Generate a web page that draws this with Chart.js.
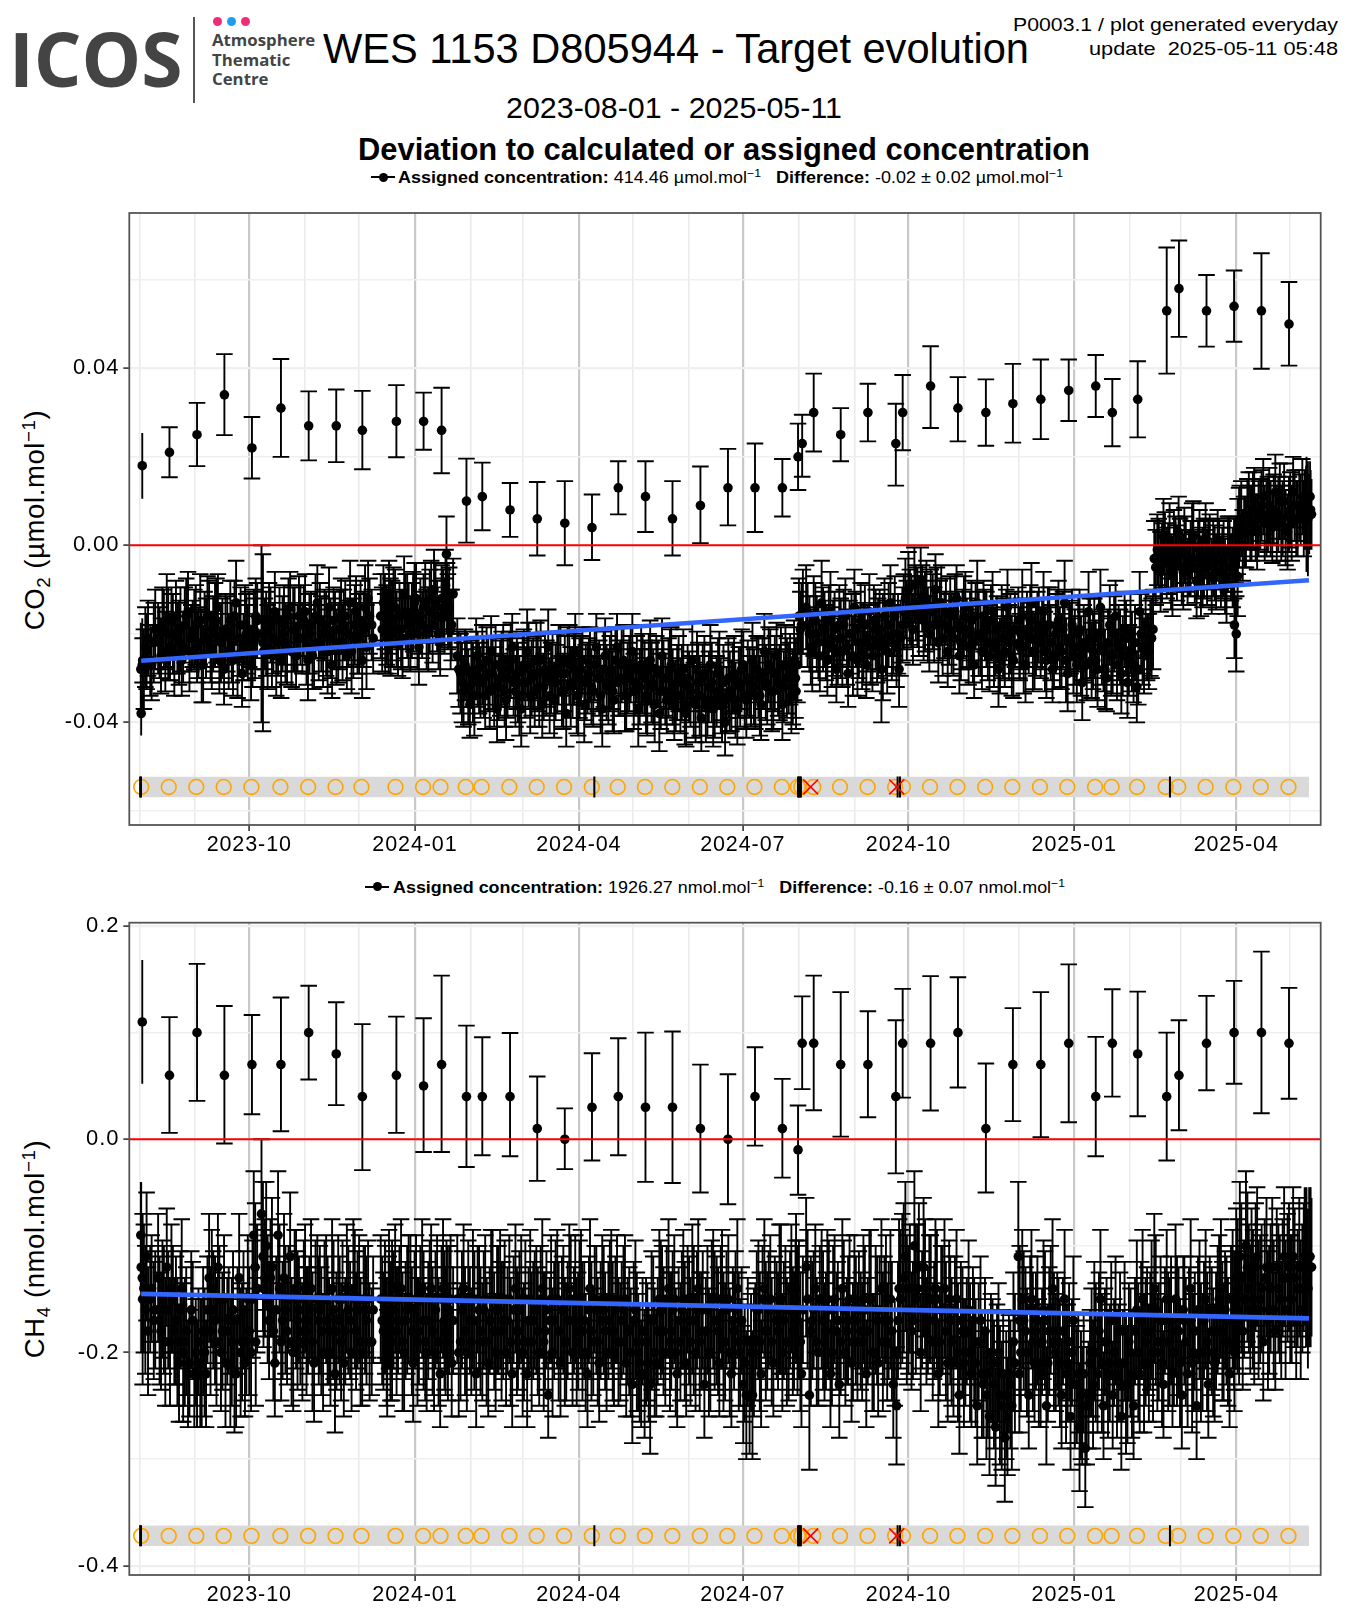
<!DOCTYPE html>
<html><head><meta charset="utf-8">
<script src="https://cdn.jsdelivr.net/npm/chart.js@4/dist/chart.umd.min.js"></script>
<style>
html,body{margin:0;padding:0;background:#fff}
#page{position:relative;width:1350px;height:1620px;overflow:hidden;font-family:"Liberation Sans",sans-serif;color:#000}
canvas{position:absolute;left:0}
.t{position:absolute;white-space:nowrap;line-height:1;transform-origin:center center}
sup{font-size:68%;vertical-align:baseline;position:relative;top:-.5em}
sub{font-size:68%;vertical-align:baseline;position:relative;top:.3em}
.logo{font-family:"Open Sans",sans-serif;font-weight:700;color:#444}
</style></head><body><div id="page">
<div class="t logo" id="lgI" style="left:9px;top:21px;font-size:75px">ICOS</div>
<div style="position:absolute;left:192.5px;top:17px;width:2px;height:86px;background:#555"></div>
<div style="position:absolute;left:213px;top:17px;width:9px;height:9px;border-radius:50%;background:#ee2d78"></div>
<div style="position:absolute;left:227px;top:17px;width:9px;height:9px;border-radius:50%;background:#1e9cf0"></div>
<div style="position:absolute;left:241px;top:17px;width:9px;height:9px;border-radius:50%;background:#ee2d78"></div>
<div class="t logo" style="left:212px;top:32px;font-size:16.8px">Atmosphere</div>
<div class="t logo" style="left:212px;top:52px;font-size:16.8px">Thematic</div>
<div class="t logo" style="left:212px;top:71px;font-size:16.8px">Centre</div>
<div class="t fit" data-cx="676" data-cy="49" data-w="706" style="font-size:42px">WES 1153 D805944 - Target evolution</div>
<div class="t fit" data-r="1338" data-cy="25.7" data-w="325" style="font-size:18.5px">P0003.1 / plot generated everyday</div>
<div class="t fit" data-r="1338" data-cy="49" data-w="249" style="font-size:18.5px;white-space:pre">update  2025-05-11 05:48</div>
<div class="t fit" data-cx="673.5" data-cy="108" data-w="336" style="font-size:30px">2023-08-01 - 2025-05-11</div>
<div class="t fit" data-cx="723.7" data-cy="149" data-w="732" style="font-size:31px;font-weight:700">Deviation to calculated or assigned concentration</div>
<div style="position:absolute;left:371px;top:176px;width:24px;height:2px;background:#000"></div>
<div style="position:absolute;left:378.5px;top:172.5px;width:9px;height:9px;border-radius:50%;background:#000"></div>
<div class="t fit" data-l="398" data-cy="177" data-w="665" style="font-size:17px;white-space:pre"><b>Assigned concentration:</b> 414.46 µmol.mol<sup>−1</sup>   <b>Difference:</b> -0.02 ± 0.02 µmol.mol<sup>−1</sup></div>
<div style="position:absolute;left:365px;top:885.5px;width:24px;height:2px;background:#000"></div>
<div style="position:absolute;left:372.5px;top:882px;width:9px;height:9px;border-radius:50%;background:#000"></div>
<div class="t fit" data-l="393" data-cy="887" data-w="672" style="font-size:17px;white-space:pre"><b>Assigned concentration:</b> 1926.27 nmol.mol<sup>−1</sup>   <b>Difference:</b> -0.16 ± 0.07 nmol.mol<sup>−1</sup></div>
<div class="t" style="left:35px;top:520px;font-size:27.5px;letter-spacing:.6px;transform:translate(-50%,-50%) rotate(-90deg)">CO<sub>2</sub> (µmol.mol<sup>−1</sup>)</div>
<div class="t" style="left:35px;top:1249px;font-size:27.5px;letter-spacing:.6px;transform:translate(-50%,-50%) rotate(-90deg)">CH<sub>4</sub> (nmol.mol<sup>−1</sup>)</div>
<canvas id="c1" style="top:190px" width="1350" height="670"></canvas>
<canvas id="c2" style="top:905px" width="1350" height="715"></canvas>
</div>
<script>
// x positions are days since 2023-08-01
const xTickDays=[0,31,61,92,122,153,184,213,244,274,305,335,366,397,427,458,488,519,550,578,609,639];
const xTickLabels={61:"2023-10",153:"2024-01",244:"2024-04",335:"2024-07",427:"2024-10",519:"2025-01",609:"2025-04"};

// sparse calibration series (same days in both panels)
const topDays=[1.6,16.7,32,47.2,62.5,78.6,94,109.3,123.8,142.7,157.8,167.8,181.6,190.4,205.8,220.9,236.2,251.3,265.9,281,296,311.5,326.8,341.8,357,365.7,368,374.4,389.4,404.5,420,423.8,439.3,454.5,470,485,500.5,516,531,540.2,554.3,570.4,577.2,592.5,607.8,623,638.3];
const co2Top=[.018,.021,.025,.034,.022,.031,.027,.027,.026,.028,.028,.026,.01,.011,.008,.006,.005,.004,.013,.011,.006,.009,.013,.013,.013,.02,.023,.03,.025,.03,.023,.03,.036,.031,.03,.032,.033,.035,.036,.03,.033,.053,.058,.053,.054,.053,.05];
const co2TopHi=[.0254,.0267,.0322,.0432,.029,.0421,.0348,.0352,.0349,.0362,.0345,.0356,.0196,.0187,.0141,.0143,.0145,.0115,.019,.019,.0145,.0178,.0218,.023,.0195,.0275,.0295,.0388,.031,.0365,.032,.0385,.045,.038,.0375,.041,.042,.042,.043,.0376,.0416,.0673,.0689,.0611,.0621,.066,.0595];
const co2TopLo=[.0105,.0154,.0179,.0249,.0151,.02,.0192,.0188,.0172,.0199,.0216,.0163,.0006,.0034,.0019,-.0023,-.0045,-.0033,.007,.003,-.0023,.0005,.0045,.003,.0065,.0125,.0155,.0212,.019,.0235,.0135,.0215,.0265,.0235,.0225,.0232,.024,.0281,.029,.0224,.0244,.0388,.0471,.0449,.046,.0399,.0406];
const ch4Top=[.11,.06,.1,.06,.07,.07,.1,.08,.04,.06,.05,.07,.04,.04,.04,.01,0,.03,.04,.03,.03,.01,0,.04,.01,-.01,.09,.09,.07,.07,.04,.09,.09,.1,.01,.07,.07,.09,.04,.09,.08,.04,.06,.09,.1,.1,.09];
const ch4TopHi=[.168,.1145,.1645,.125,.1166,.133,.144,.1285,.108,.115,.1135,.1535,.1066,.0957,.0997,.0588,.029,.0807,.0947,.1,.101,.07,.061,.0863,.0566,.0316,.134,.1535,.138,.12,.1116,.141,.153,.152,.071,.123,.138,.164,.096,.1407,.1385,.1,.1116,.1345,.1485,.176,.142];
const ch4TopLo=[.052,.006,.036,-.004,.0235,.0075,.056,.032,-.029,.006,-.012,-.012,-.026,-.015,-.016,-.039,-.028,-.02,-.015,-.04,-.041,-.05,-.061,-.006,-.036,-.052,.047,.0272,.0025,.0206,-.032,.039,.027,.0485,-.05,.017,.002,.016,-.016,.04,.0216,-.02,.0084,.046,.052,.0244,.038];

// dense target series
const denseDays=[.8,1,2.5,4,6,8,
10.4,12,13.6,15.2,17,18.6,
20.3,22,23.5,25.2,27,28.8,
30.5,32,33.8,35.4,37,38.7,
40.2,42,43.6,45.3,47,48.8,
50.5,52,53.7,55.4,57,58.6,
60.2,62,63.5,64.6,67.8,68.9,
70.4,72,73.6,75.2,77,78.7,
80.3,82,83.7,85.4,87,88.6,
90.5,92,93.6,95.3,97,98.8,
100.2,102,103.7,105.3,107,108.6,
110.4,112,113.5,115.2,117,118.8,
120.3,122,123.7,125.3,127,129,
134,135.5,136.5,137.6,138.6,139.5,
140.3,142,143.6,145.3,147,148.7,
150.5,152,153.6,155.2,157,158.7,
160.4,162,163.6,165.3,167,168.6,
170,170.5,172,173.4,176.5,178.3,
180,181.8,183.5,185.2,187,188.6,
190.4,192,193.7,195.3,197,198.6,
200.3,202,203.6,205.4,207,208.8,
210.2,212,213.5,215.3,217,218.7,
220.4,222,223.7,225.2,227,228.6,
230.3,232,233.8,235.4,237,238.7,
240.5,242,243.6,245.2,247,248.8,
250.2,252,253.7,255.3,257,258.6,
260.4,262,263.5,265.2,267,268.8,
270.3,272,273.7,275.4,277,278.6,
280.5,282,283.6,285.3,287,288.7,
290.2,292,293.8,295.3,297,298.6,
300.4,302,303.6,305.2,307,308.8,
310.3,312,313.7,315.4,317,318.6,
320.5,322,323.5,325.2,327,328.7,
330.2,332,333.6,335.3,337,338.8,
340.4,342,343.7,345.2,347,348.6,
350.3,352,353.8,355.4,357,358.7,
360.5,362,363.5,364.6,366.2,367.6,
370.2,372,373.6,375.3,377,378.8,
380.4,382,383.7,385.2,387,388.6,
390.3,392,393.5,395.4,397,398.7,
400.5,402,403.6,405.3,407,408.8,
410.2,412,413.7,415.2,417,418.6,
420.4,421.8,423.6,425.3,427,428.7,
430.3,432,433.8,435.4,437,438.6,
440.5,442,443.6,445.2,447,448.8,
450.2,452,453.7,455.3,457,458.6,
460.4,462,463.5,465.2,467,468.7,
470.3,472,473.7,475.4,477,478.8,
480.5,482,483.6,485.3,488,488.6,
490.2,492,493.8,495.3,497,498.6,
500.4,502,503.6,505.2,507,508.8,
510.3,512,513.7,515.4,517,518.6,
520.5,522,523.5,525.2,527,528.7,
530.2,532,533.6,535.3,537,538.8,
540.4,542,543.7,545.2,547,548.6,
550.3,552,553.8,555.4,557,558.7,
560.5,562,563.5,565.2,567,568.6,
570.4,572,573.6,575.3,577,578.8,
580.2,582,583.7,585.2,587,588.6,
590.3,592,593.5,595.4,597,598.7,
600.5,602,603.6,605.3,607,608,
609,609.8,611,612.6,614.4,616,
617.5,619,620.6,622.3,624,625.8,
627.3,629,630.7,632.4,634,635.6,
637.5,639,640.6,642.3,644,645.7,
647,648,649.5,650];
const co2Dense=[-.028,-.038,-.028,-.024,-.026,-.022,
-.021,-.025,-.019,-.017,-.023,-.02,
-.016,-.022,-.026,-.018,-.015,-.021,
-.019,-.023,-.017,-.027,-.021,-.016,
-.024,-.018,-.014,-.022,-.028,-.02,
-.017,-.026,-.013,-.021,-.029,-.018,
-.022,-.027,-.019,-.016,-.02,-.024,
-.02,-.017,-.024,-.015,-.022,-.026,
-.018,-.023,-.014,-.019,-.025,-.016,
-.021,-.015,-.026,-.018,-.023,-.013,
-.017,-.024,-.02,-.014,-.027,-.019,
-.022,-.016,-.018,-.025,-.013,-.021,
-.015,-.02,-.026,-.014,-.012,-.018,
-.016,-.013,-.02,-.018,-.012,-.022,
-.017,-.014,-.022,-.019,-.011,-.016,
-.02,-.015,-.012,-.023,-.018,-.013,
-.019,-.012,-.01,-.016,-.022,-.014,
-.009,-.002,-.014,-.018,-.025,-.029,
-.033,-.028,-.036,-.031,-.025,-.03,
-.027,-.034,-.029,-.024,-.032,-.037,
-.03,-.026,-.035,-.028,-.023,-.033,
-.031,-.037,-.027,-.024,-.034,-.029,
-.026,-.032,-.036,-.028,-.023,-.03,
-.035,-.029,-.026,-.033,-.038,-.027,
-.031,-.024,-.034,-.028,-.036,-.03,
-.027,-.033,-.023,-.03,-.037,-.025,
-.032,-.028,-.035,-.023,-.03,-.026,
-.034,-.029,-.024,-.031,-.037,-.027,
-.03,-.035,-.026,-.032,-.028,-.038,
-.025,-.033,-.03,-.027,-.036,-.031,
-.034,-.028,-.038,-.032,-.026,-.036,
-.031,-.039,-.029,-.035,-.027,-.037,
-.033,-.028,-.036,-.04,-.03,-.034,
-.029,-.037,-.032,-.027,-.035,-.031,
-.026,-.034,-.03,-.036,-.024,-.032,
-.028,-.033,-.025,-.031,-.036,-.027,
-.03,-.034,-.026,-.033,-.016,-.018,
-.014,-.02,-.024,-.017,-.022,-.013,
-.019,-.026,-.015,-.021,-.028,-.018,
-.024,-.016,-.029,-.02,-.014,-.026,
-.017,-.022,-.027,-.015,-.025,-.019,
-.021,-.028,-.016,-.024,-.013,-.02,
-.023,-.028,-.018,-.012,-.01,-.015,
-.009,-.014,-.008,-.017,-.012,-.02,
-.015,-.01,-.022,-.013,-.018,-.024,
-.016,-.021,-.012,-.025,-.019,-.014,
-.023,-.017,-.027,-.013,-.021,-.016,
-.019,-.025,-.015,-.022,-.028,-.018,
-.024,-.014,-.02,-.026,-.017,-.022,
-.016,-.027,-.021,-.013,-.024,-.019,
-.022,-.015,-.026,-.018,-.028,-.02,
-.017,-.024,-.013,-.029,-.021,-.025,
-.027,-.019,-.031,-.023,-.015,-.026,
-.021,-.028,-.014,-.024,-.03,-.018,
-.025,-.016,-.022,-.029,-.019,-.031,
-.02,-.027,-.032,-.015,-.023,-.018,
-.024,-.021,-.003,-.001,-.006,.002,
-.004,.001,-.007,-.002,.003,-.005,
0,-.006,-.003,.002,-.008,-.001,
-.005,.001,-.002,-.007,-.004,0,
-.006,-.003,-.009,-.001,-.005,-.018,
-.02,-.007,.005,0,.003,.008,
.005,.01,.003,.007,.011,.006,
.009,.004,.012,.007,.005,.01,
.003,.008,.012,.006,.009,.011,
.008,.007,.007,.011];
const co2Dense2=[-.027,-.026,-.023,-.021,-.027,-.019,
-.022,-.018,-.024,-.02,-.017,-.025,
-.021,-.019,-.023,-.016,-.024,-.02,
-.018,-.022,-.025,-.019,-.016,-.023,
-.02,-.017,-.026,-.021,-.019,-.024,
-.022,-.016,-.025,-.018,-.023,-.02,
-.019,-.024,-.021,-.017,-.022,-.02,
-.023,-.018,-.021,-.025,-.017,-.02,
-.022,-.016,-.024,-.019,-.021,-.018,
-.017,-.023,-.02,-.025,-.016,-.022,
-.02,-.018,-.024,-.021,-.017,-.023,
-.019,-.022,-.016,-.02,-.024,-.018,
-.021,-.017,-.019,-.023,-.016,-.021,
-.019,-.015,-.018,-.021,-.016,-.02,
-.014,-.019,-.016,-.021,-.015,-.018,
-.017,-.013,-.02,-.016,-.014,-.019,
-.015,-.018,-.013,-.02,-.012,-.016,
-.012,-.015,-.019,-.011,-.028,-.031,
-.027,-.032,-.029,-.034,-.028,-.031,
-.03,-.026,-.033,-.029,-.027,-.032,
-.028,-.033,-.03,-.026,-.031,-.029,
-.034,-.028,-.031,-.027,-.03,-.033,
-.029,-.026,-.032,-.03,-.034,-.028,
-.031,-.027,-.033,-.029,-.026,-.032,
-.028,-.034,-.03,-.026,-.031,-.029,
-.032,-.027,-.03,-.034,-.028,-.031,
-.029,-.033,-.026,-.031,-.027,-.034,
-.03,-.027,-.033,-.028,-.032,-.029,
-.034,-.028,-.031,-.036,-.029,-.033,
-.03,-.035,-.028,-.032,-.034,-.029,
-.031,-.036,-.03,-.033,-.035,-.028,
-.034,-.03,-.036,-.032,-.031,-.035,
-.029,-.034,-.031,-.035,-.033,-.03,
-.035,-.031,-.028,-.034,-.03,-.033,
-.032,-.028,-.034,-.029,-.031,-.027,
-.033,-.029,-.031,-.027,-.032,-.03,
-.028,-.032,-.03,-.027,-.019,-.015,
-.018,-.023,-.016,-.02,-.025,-.019,
-.022,-.017,-.023,-.019,-.024,-.021,
-.018,-.023,-.02,-.025,-.019,-.022,
-.024,-.018,-.021,-.023,-.017,-.022,
-.019,-.023,-.021,-.018,-.022,-.016,
-.02,-.021,-.015,-.017,-.014,-.019,
-.013,-.016,-.012,-.015,-.018,-.014,
-.018,-.013,-.017,-.021,-.015,-.019,
-.02,-.015,-.018,-.022,-.016,-.02,
-.019,-.022,-.016,-.02,-.024,-.018,
-.022,-.017,-.023,-.019,-.025,-.021,
-.018,-.022,-.025,-.019,-.023,-.02,
-.023,-.019,-.017,-.024,-.021,-.018,
-.02,-.024,-.018,-.022,-.025,-.019,
-.023,-.019,-.026,-.021,-.018,-.023,
-.02,-.025,-.022,-.027,-.021,-.024,
-.026,-.02,-.023,-.028,-.022,-.025,
-.02,-.027,-.023,-.025,-.021,-.026,
-.024,-.022,-.028,-.02,-.025,-.023,
-.021,-.019,-.005,-.002,-.004,-.001,
-.003,-.006,-.001,-.004,-.002,-.006,
-.002,-.004,.001,-.005,-.003,-.007,
-.003,-.005,-.001,-.003,-.006,-.002,
-.004,-.007,-.002,-.005,-.003,-.001,
.002,.004,.006,.003,.007,.005,
.008,.004,.006,.009,.005,.007,
.006,.008,.005,.01,.006,.004,
.007,.005,.009,.006,.008,.006,
.009,.006,.008,.007];
const co2DenseErr=[.0105,.005,.009,.0085,.008,.009,
.008,.0085,.009,.0105,.0075,.009,
.008,.0095,.008,.0085,.009,.0075,
.009,.008,.0105,.0085,.009,.008,
.0085,.0095,.0075,.009,.008,.0085,
.009,.008,.0095,.0085,.0075,.009,
.0085,.008,.009,.0085,.02,.008,
.0095,.0085,.008,.009,.0075,.0085,
.009,.0085,.008,.0095,.0075,.009,
.008,.0085,.009,.0075,.0095,.0085,
.0085,.008,.0095,.009,.0075,.0085,
.009,.0085,.008,.0075,.0095,.009,
.008,.009,.0085,.0095,.0085,.008,
.0095,.0085,.009,.008,.0085,.0075,
.009,.0085,.0075,.009,.0085,.0095,
.0085,.009,.008,.0085,.0075,.009,
.0095,.0085,.009,.008,.0075,.0085,
.008,.0085,.009,.008,.0085,.009,
.008,.0085,.0075,.009,.0085,.008,
.009,.0075,.0085,.008,.009,.0075,
.0085,.008,.009,.0085,.0075,.008,
.009,.0085,.008,.0095,.0085,.008,
.0085,.009,.0075,.0085,.0085,.008,
.0085,.009,.008,.0085,.0075,.009,
.008,.0085,.009,.0075,.0085,.008,
.0085,.008,.0075,.0085,.0085,.0085,
.0085,.009,.0075,.0075,.0085,.008,
.008,.0085,.0085,.0075,.0085,.009,
.0085,.008,.009,.0085,.0075,.0085,
.0085,.0075,.009,.0085,.008,.0085,
.0085,.009,.0075,.008,.0085,.0085,
.009,.0075,.0085,.008,.009,.0085,
.008,.0085,.0085,.0075,.009,.008,
.0085,.008,.009,.0075,.0085,.008,
.0085,.0075,.009,.008,.0085,.0085,
.009,.0085,.0075,.0085,.008,.009,
.008,.0085,.009,.0085,.0085,.0095,
.0095,.0085,.009,.0085,.008,.0095,
.0085,.008,.009,.0085,.0075,.009,
.008,.0085,.0075,.009,.0085,.008,
.0085,.009,.0075,.0085,.008,.009,
.009,.012,.0085,.0095,.0085,.009,
.009,.0085,.0085,.009,.0085,.008,
.0085,.009,.0075,.009,.0085,.0085,
.0085,.008,.009,.0085,.0075,.008,
.009,.0085,.0075,.0085,.009,.008,
.0085,.009,.0075,.0095,.0085,.008,
.0085,.008,.009,.0075,.0085,.009,
.008,.0085,.009,.0085,.0075,.008,
.0105,.0085,.008,.009,.0085,.0085,
.008,.009,.0085,.0085,.0075,.009,
.009,.0085,.0095,.0085,.008,.0085,
.0085,.009,.0085,.008,.009,.0085,
.009,.0085,.0085,.009,.0075,.009,
.0085,.008,.0085,.009,.0085,.008,
.009,.0085,.008,.009,.0085,.0075,
.0085,.009,.0085,.008,.009,.0085,
.008,.0085,.009,.0085,.008,.0085,
.0085,.0075,.0085,.008,.0085,.009,
.009,.0085,.008,.0085,.0085,.008,
.008,.0085,.0085,.0075,.009,.0075,
.0085,.009,.0085,.008,.008,.0085,
.0085,.0075,.0085,.008,.0085,.0085,
.0085,.008,.0085,.0085,.0085,.0085,
.0085,.0085,.008,.0085,.008,.0085,
.009,.013,.009,.008];
const ch4Dense=[-.09,-.12,-.14,-.11,-.15,-.17,
-.13,-.18,-.16,-.12,-.19,-.15,
-.17,-.21,-.14,-.19,-.22,-.16,
-.22,-.22,-.21,-.18,-.22,-.13,
-.14,-.17,-.12,-.2,-.15,-.18,
-.21,-.16,-.22,-.13,-.19,-.21,
-.15,-.2,-.09,-.19,-.07,-.14,
-.1,-.17,-.12,-.21,-.09,-.19,
-.13,-.18,-.11,-.2,-.15,-.16,
-.19,-.14,-.17,-.14,-.21,-.15,
-.16,-.2,-.15,-.18,-.14,-.22,
-.15,-.19,-.21,-.14,-.17,-.14,
-.18,-.15,-.2,-.16,-.15,-.19,
-.15,-.18,-.16,-.21,-.15,-.17,
-.19,-.14,-.17,-.14,-.2,-.16,
-.15,-.21,-.15,-.18,-.14,-.19,
-.17,-.14,-.2,-.15,-.22,-.14,
-.18,-.15,-.16,-.21,-.15,-.19,
-.14,-.2,-.17,-.15,-.22,-.16,
-.19,-.15,-.21,-.15,-.18,-.16,
-.15,-.17,-.2,-.15,-.22,-.14,
-.18,-.15,-.19,-.22,-.15,-.17,
-.16,-.2,-.14,-.18,-.24,-.15,
-.17,-.15,-.21,-.16,-.19,-.14,
-.2,-.15,-.18,-.15,-.17,-.22,
-.14,-.19,-.16,-.21,-.15,-.18,
-.17,-.15,-.2,-.15,-.19,-.16,
-.21,-.18,-.23,-.16,-.2,-.22,
-.22,-.19,-.23,-.17,-.21,-.15,
-.16,-.2,-.14,-.18,-.15,-.22,
-.19,-.15,-.21,-.17,-.15,-.2,
-.14,-.18,-.23,-.16,-.2,-.15,
-.17,-.21,-.15,-.19,-.15,-.22,
-.18,-.14,-.2,-.23,-.24,-.24,
-.24,-.19,-.16,-.22,-.14,-.18,
-.15,-.21,-.17,-.15,-.2,-.16,
-.19,-.14,-.18,-.14,-.16,-.22,
-.12,-.24,-.17,-.14,-.2,-.15,
-.19,-.15,-.22,-.16,-.18,-.23,
-.14,-.2,-.17,-.21,-.15,-.19,
-.18,-.15,-.22,-.15,-.2,-.16,
-.21,-.14,-.17,-.19,-.15,-.23,
-.25,-.14,-.14,-.11,-.16,-.18,
-.1,-.14,-.2,-.12,-.18,-.15,
-.19,-.14,-.22,-.16,-.14,-.21,
-.17,-.21,-.15,-.24,-.18,-.2,
-.16,-.22,-.19,-.25,-.17,-.23,
-.24,-.26,-.21,-.27,-.2,-.25,
-.28,-.26,-.23,-.19,-.11,-.22,
-.15,-.18,-.24,-.15,-.21,-.17,
-.22,-.16,-.25,-.18,-.14,-.2,
-.19,-.24,-.15,-.21,-.26,-.17,
-.23,-.27,-.25,-.29,-.24,-.2,
-.18,-.22,-.15,-.25,-.19,-.21,
-.24,-.17,-.21,-.26,-.18,-.23,
-.2,-.25,-.16,-.22,-.15,-.19,
-.21,-.16,-.14,-.2,-.17,-.23,
-.15,-.19,-.22,-.15,-.18,-.24,
-.17,-.22,-.14,-.2,-.25,-.16,
-.2,-.15,-.23,-.18,-.21,-.16,
-.14,-.19,-.17,-.22,-.15,-.2,
-.13,-.16,-.11,-.18,-.1,-.14,
-.13,-.17,-.11,-.15,-.19,-.12,
-.16,-.12,-.18,-.14,-.17,-.11,
-.13,-.15,-.11,-.17,-.12,-.14,
-.11,-.12,-.12,-.11];
const ch4Dense2=[-.13,-.15,-.16,-.18,-.14,-.16,
-.17,-.15,-.19,-.16,-.14,-.18,
-.19,-.16,-.2,-.18,-.21,-.17,
-.2,-.19,-.21,-.2,-.16,-.18,
-.16,-.19,-.15,-.18,-.21,-.17,
-.19,-.22,-.17,-.2,-.16,-.19,
-.18,-.15,-.12,-.14,-.11,-.13,
-.15,-.13,-.18,-.16,-.14,-.17,
-.16,-.15,-.19,-.14,-.17,-.18,
-.15,-.18,-.16,-.19,-.15,-.17,
-.18,-.15,-.17,-.2,-.16,-.18,
-.17,-.15,-.18,-.16,-.2,-.15,
-.16,-.19,-.15,-.17,-.19,-.16,
-.17,-.15,-.19,-.16,-.18,-.15,
-.16,-.18,-.15,-.19,-.17,-.15,
-.18,-.16,-.19,-.15,-.17,-.2,
-.15,-.18,-.16,-.19,-.15,-.17,
-.16,-.19,-.15,-.17,-.2,-.16,
-.18,-.15,-.19,-.17,-.15,-.18,
-.16,-.19,-.17,-.15,-.2,-.16,
-.18,-.15,-.17,-.19,-.16,-.18,
-.16,-.2,-.15,-.17,-.19,-.16,
-.18,-.15,-.19,-.16,-.17,-.2,
-.15,-.18,-.16,-.19,-.17,-.15,
-.17,-.19,-.15,-.18,-.2,-.16,
-.18,-.15,-.19,-.17,-.16,-.2,
-.15,-.18,-.16,-.19,-.17,-.15,
-.18,-.2,-.17,-.19,-.21,-.18,
-.19,-.21,-.17,-.2,-.18,-.16,
-.18,-.15,-.19,-.16,-.2,-.17,
-.16,-.18,-.15,-.19,-.17,-.16,
-.19,-.16,-.18,-.2,-.15,-.17,
-.18,-.15,-.19,-.16,-.2,-.17,
-.16,-.19,-.17,-.21,-.19,-.2,
-.2,-.16,-.19,-.15,-.18,-.16,
-.19,-.16,-.18,-.15,-.17,-.19,
-.16,-.18,-.15,-.17,-.19,-.16,
-.15,-.18,-.16,-.19,-.15,-.17,
-.18,-.16,-.2,-.15,-.17,-.19,
-.16,-.18,-.15,-.19,-.17,-.16,
-.19,-.16,-.18,-.15,-.2,-.17,
-.16,-.19,-.15,-.17,-.18,-.2,
-.17,-.15,-.13,-.16,-.14,-.17,
-.15,-.12,-.16,-.14,-.17,-.15,
-.17,-.15,-.19,-.16,-.18,-.15,
-.19,-.16,-.2,-.17,-.21,-.18,
-.2,-.17,-.21,-.19,-.22,-.18,
-.22,-.2,-.23,-.21,-.24,-.22,
-.24,-.22,-.25,-.21,-.17,-.2,
-.17,-.2,-.16,-.19,-.18,-.21,
-.19,-.17,-.21,-.16,-.19,-.18,
-.21,-.18,-.22,-.19,-.2,-.23,
-.22,-.24,-.22,-.25,-.21,-.23,
-.2,-.18,-.21,-.19,-.22,-.17,
-.2,-.22,-.18,-.21,-.23,-.19,
-.22,-.18,-.2,-.17,-.21,-.18,
-.18,-.2,-.16,-.19,-.21,-.17,
-.19,-.17,-.2,-.18,-.21,-.16,
-.19,-.17,-.21,-.18,-.16,-.2,
-.17,-.19,-.16,-.2,-.18,-.15,
-.18,-.16,-.19,-.15,-.17,-.16,
-.14,-.17,-.13,-.15,-.12,-.16,
-.15,-.12,-.16,-.14,-.13,-.17,
-.14,-.16,-.12,-.15,-.13,-.16,
-.12,-.15,-.13,-.14,-.16,-.12,
-.13,-.14,-.12,-.12];
const ch4DenseErr=[.05,.08,.06,.06,.05,.055,
.06,.055,.06,.055,.06,.05,
.06,.055,.065,.06,.05,.055,
.05,.05,.06,.06,.05,.06,
.055,.06,.05,.055,.06,.05,
.06,.055,.05,.06,.055,.05,
.06,.055,.06,.06,.07,.055,
.06,.055,.065,.05,.06,.055,
.06,.05,.06,.055,.065,.05,
.055,.06,.05,.065,.055,.06,
.06,.055,.06,.05,.065,.055,
.06,.055,.05,.06,.055,.065,
.055,.06,.05,.06,.055,.05,
.06,.055,.06,.05,.065,.055,
.055,.06,.05,.065,.055,.06,
.06,.055,.06,.05,.065,.055,
.055,.06,.055,.06,.05,.065,
.06,.055,.06,.05,.06,.055,
.06,.055,.05,.065,.05,.06,
.055,.06,.05,.065,.055,.06,
.065,.055,.05,.06,.05,.06,
.055,.06,.055,.05,.065,.055,
.06,.05,.065,.055,.04,.06,
.055,.065,.05,.06,.055,.06,
.05,.06,.055,.065,.055,.05,
.065,.05,.06,.055,.06,.055,
.055,.065,.05,.06,.055,.06,
.05,.06,.055,.065,.055,.05,
.06,.055,.065,.06,.05,.065,
.06,.05,.065,.055,.06,.05,
.055,.065,.05,.06,.07,.055,
.065,.055,.05,.06,.055,.065,
.06,.05,.065,.055,.06,.05,
.055,.065,.05,.055,.06,.055,
.06,.055,.065,.05,.065,.055,
.06,.05,.055,.07,.055,.06,
.055,.06,.055,.07,.065,.05,
.065,.07,.055,.06,.05,.065,
.055,.065,.05,.06,.055,.05,
.065,.05,.06,.055,.06,.055,
.055,.06,.05,.065,.055,.06,
.05,.065,.06,.055,.065,.05,
.055,.065,.07,.07,.06,.055,
.07,.06,.055,.065,.05,.06,
.055,.065,.05,.06,.065,.055,
.06,.05,.065,.055,.06,.05,
.065,.05,.06,.055,.06,.05,
.06,.055,.06,.055,.065,.06,
.06,.055,.06,.065,.07,.055,
.065,.06,.05,.065,.055,.06,
.05,.065,.055,.06,.065,.055,
.06,.05,.065,.055,.05,.06,
.055,.06,.055,.055,.05,.06,
.065,.055,.065,.05,.06,.055,
.05,.06,.055,.05,.065,.055,
.06,.05,.065,.055,.065,.06,
.055,.065,.07,.055,.06,.05,
.065,.06,.05,.07,.06,.05,
.06,.05,.065,.055,.05,.065,
.055,.065,.05,.06,.055,.06,
.065,.055,.06,.05,.065,.055,
.065,.06,.07,.055,.07,.06,
.065,.06,.065,.06,.055,.065,
.06,.065,.055,.06,.055,.065,
.06,.06,.065,.055,.065,.06,
.065,.075,.075,.065];

// markers in the bottom band
const bandDays=[.9,649.4];
const flagDays=[1,16.3,31.6,46.8,62.2,78.3,93.7,108.9,123.3,142.2,157.5,167.2,181.2,190,205.4,220.6,235.8,251.2,265.6,280.7,295.9,311.2,326.4,341.5,356.7,365.6,367.5,374.2,389,404.3,419.6,423.9,439,454.2,469.6,484.7,500,515.2,530.6,539.8,553.9,569.8,576.8,592,607.4,622.6,638];
const checkDays=[.4,.9,252.6,365.7,366.2,366.8,367.3,421,422.3,572.2];
const rejectedDays=[372.7,420.5];

// trend end points and reference line
const trendDays=[1,649.4];
const co2Trend=[-.0261,-.0079];
const ch4Trend=[-.145,-.168];
const refDays=[-5.6,655.9];
const refLevel=[0,0];

const xRange=[-5.6,655.9];
const co2Range=[-.0632,.0751];
const ch4Range=[-.4087,.2031];
const co2YTicks=[-.06,-.04,-.02,0,.02,.04,.06];
const co2YLabels={"-0.04":"-0.04","0":"0.00","0.04":"0.04"};
const ch4YTicks=[-.4,-.3,-.2,-.1,0,.1,.2];
const ch4YLabels={"-0.4":"-0.4","-0.2":"-0.2","0":"0.0","0.2":"0.2"};

const capHalfDays=4.6;
const dense2Days=denseDays.map(d=>d+.8);
function xy(xs,ys){return xs.map((x,i)=>({x,y:ys[i]}));}
function flat(xs,y){return xs.map(x=>({x,y}));}
function whiskers(days,lo,hi){
  const out=[];
  days.forEach((d,i)=>{
    out.push({x:d,y:lo[i]},{x:d,y:hi[i]},{x:d,y:null});
    if(d>1.7&&d<647){
      out.push({x:d-capHalfDays,y:hi[i]},{x:d+capHalfDays,y:hi[i]},{x:d,y:null});
      out.push({x:d-capHalfDays,y:lo[i]},{x:d+capHalfDays,y:lo[i]},{x:d,y:null});
    }
  });
  return out;
}
const lineBase={type:'line',pointRadius:0,tension:0,spanGaps:false,fill:false};

const tickGlyphSpacing={id:'tickGlyphSpacing',beforeDraw(c){c.ctx.letterSpacing='.9px';},
  beforeDatasetsDraw(c){c.ctx.letterSpacing='0px';}};
const panelBorder={id:'panelBorder',afterDatasetsDraw(c){const a=c.chartArea,g=c.ctx;g.save();g.strokeStyle='#555';g.lineWidth=1.8;
  g.strokeRect(a.left,a.top,a.right-a.left,a.bottom-a.top);g.restore();}};

function panel(id,o){
  const lo=o.dense.map((v,i)=>v-o.err[i]), hi=o.dense.map((v,i)=>v+o.err[i]);
  const lo2=o.dense2.map((v,i)=>v-o.err[i]), hi2=o.dense2.map((v,i)=>v+o.err[i]);
  return new Chart(document.getElementById(id),{
    type:'scatter',
    data:{datasets:[
      {...lineBase,label:'band',data:flat(bandDays,o.bandY),borderColor:'#d9d9d9',borderWidth:20.5,borderCapStyle:'butt',order:60},
      {label:'flag ok',data:flat(flagDays,o.bandY),pointStyle:'circle',pointRadius:7.4,pointBackgroundColor:'rgba(0,0,0,0)',pointBorderColor:'#FFA500',pointBorderWidth:1.6,order:50},
      {label:'check',data:flat(checkDays,o.bandY),pointStyle:'line',rotation:90,pointRadius:10.5,pointBorderColor:'#000',pointBorderWidth:2,order:45},
      {label:'rejected',data:flat(rejectedDays,o.bandY),pointStyle:'crossRot',pointRadius:10.6,pointBorderColor:'#FF0000',pointBorderWidth:1.6,order:40},
      {...lineBase,label:'dense whiskers',data:whiskers(denseDays,lo,hi),borderColor:'#000',borderWidth:1.9,borderCapStyle:'butt',order:30},
      {...lineBase,label:'dense whiskers 2',data:whiskers(dense2Days,lo2,hi2),borderColor:'#000',borderWidth:1.9,borderCapStyle:'butt',order:30},
      {...lineBase,label:'top whiskers',data:whiskers(topDays,o.topLo,o.topHi),borderColor:'#000',borderWidth:1.9,borderCapStyle:'butt',order:30},
      {label:'dense',data:xy(denseDays,o.dense),pointRadius:4.8,pointBackgroundColor:'#000',pointBorderWidth:0,order:20},
      {label:'dense 2',data:xy(dense2Days,o.dense2),pointRadius:4.8,pointBackgroundColor:'#000',pointBorderWidth:0,order:20},
      {label:'top',data:xy(topDays,o.top),pointRadius:4.8,pointBackgroundColor:'#000',pointBorderWidth:0,order:20},
      {...lineBase,label:'zero',data:xy(refDays,refLevel),borderColor:'#FF0000',borderWidth:2,order:10},
      {...lineBase,label:'trend',data:xy(trendDays,o.trend),borderColor:'#3366FF',borderWidth:4.6,borderCapStyle:'butt',order:5}
    ]},
    plugins:[tickGlyphSpacing,panelBorder],
    options:{
      responsive:false,animation:false,events:[],devicePixelRatio:1,
      layout:{padding:{left:0,right:29.3,top:o.padTop,bottom:0}},
      plugins:{legend:{display:false},tooltip:{enabled:false},title:{display:false}},
      scales:{
        x:{type:'linear',min:xRange[0],max:xRange[1],
          afterBuildTicks(s){s.ticks=xTickDays.map(value=>({value}));},
          afterFit(s){s.height=o.xAxisH;},
          border:{display:false},
          grid:{drawTicks:true,tickLength:6,tickWidth:1.6,
            color:c=>xTickLabels[c.tick.value]?'#c8c8c8':'#ebebeb',
            lineWidth:c=>xTickLabels[c.tick.value]?2.2:1.6,
            tickColor:c=>xTickLabels[c.tick.value]?'#333':'rgba(0,0,0,0)'},
          ticks:{autoSkip:false,maxRotation:0,minRotation:0,padding:1,color:'#000',
            font:{family:'"Liberation Sans"',size:21.5},
            callback:v=>xTickLabels[v]||''}},
        y:{type:'linear',min:o.range[0],max:o.range[1],
          afterBuildTicks(s){s.ticks=o.yTicks.map(value=>({value}));},
          afterFit(s){s.width=129.3;},
          border:{display:false},
          grid:{drawTicks:true,tickLength:6,tickWidth:1.6,
            color:'#efefef',
            lineWidth:c=>o.yLabels[String(c.tick.value)]?2.2:1.5,
            tickColor:c=>o.yLabels[String(c.tick.value)]?'#333':'rgba(0,0,0,0)'},
          ticks:{autoSkip:false,padding:4,color:'#000',
            font:{family:'"Liberation Sans"',size:22},
            callback:v=>o.yLabels[String(v)]||''}}
      }
    }
  });
}
panel('c1',{dense:co2Dense,dense2:co2Dense2,err:co2DenseErr,top:co2Top,topLo:co2TopLo,topHi:co2TopHi,trend:co2Trend,bandY:-.0546,range:co2Range,yTicks:co2YTicks,yLabels:co2YLabels,padTop:23,xAxisH:35});
panel('c2',{dense:ch4Dense,dense2:ch4Dense2,err:ch4DenseErr,top:ch4Top,topLo:ch4TopLo,topHi:ch4TopHi,trend:ch4Trend,bandY:-.372,range:ch4Range,yTicks:ch4YTicks,yLabels:ch4YLabels,padTop:17.7,xAxisH:45});

// fit heading text to its measured width
document.querySelectorAll('.fit').forEach(el=>{
  const w=el.getBoundingClientRect().width,h=el.getBoundingClientRect().height,t=+el.dataset.w,k=t/w,d=el.dataset;
  el.style.transformOrigin='left center';
  const left=d.cx?(+d.cx-t/2):d.r?(+d.r-t):+d.l;
  el.style.left=left+'px';el.style.top=(+d.cy-h/2)+'px';
  el.style.transform='scaleX('+k+')';
});
</script></body></html>
